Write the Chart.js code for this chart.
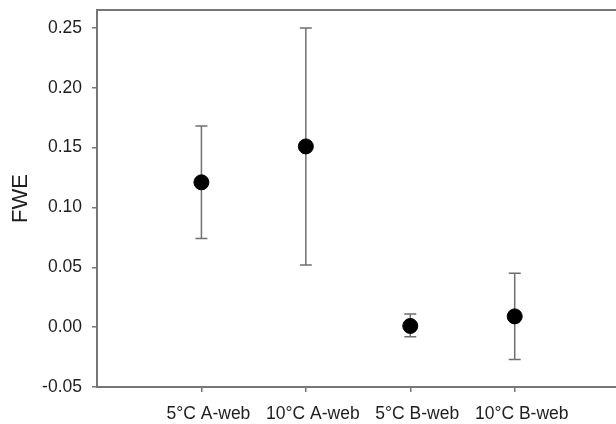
<!DOCTYPE html>
<html>
<head>
<meta charset="utf-8">
<script src="https://cdn.jsdelivr.net/npm/chart.js@4/dist/chart.umd.min.js"></script>
<style>
  html, body { margin: 0; padding: 0; background: #fff; }
  #wrap { width: 616px; height: 424px; }
</style>
</head>
<body>
<div id="wrap"><canvas id="chart" width="616" height="424"></canvas></div>
<script>
  const categories = ['5°C A-web', '10°C A-web', '5°C B-web', '10°C B-web'];
  const fweMean = [0.121, 0.151, 0.001, 0.009];
  const fweUpper = [0.168, 0.250, 0.011, 0.045];
  const fweLower = [0.074, 0.052, -0.008, -0.027];
  const yTicks = [-0.05, 0.00, 0.05, 0.10, 0.15, 0.20, 0.25];

  const AXIS_COLOR = '#767676';
  const BAR_COLOR = '#6f6f6f';
  const FONT = 'Liberation Sans, Arial, sans-serif';

  // error bars + top frame line
  const errorBarPlugin = {
    id: 'errorBars',
    beforeDatasetsDraw: function (chart) {
      const ctx = chart.ctx;
      const xs = chart.scales.x;
      const ys = chart.scales.y;
      ctx.save();
      ctx.strokeStyle = BAR_COLOR;
      ctx.lineWidth = 1.5;
      fweMean.forEach(function (v, i) {
        const x = xs.getPixelForValue(i + 1);
        const yTop = ys.getPixelForValue(fweUpper[i]);
        const yBot = ys.getPixelForValue(fweLower[i]);
        ctx.beginPath();
        ctx.moveTo(x, yTop);
        ctx.lineTo(x, yBot);
        ctx.moveTo(x - 6, yTop);
        ctx.lineTo(x + 6, yTop);
        ctx.moveTo(x - 6, yBot);
        ctx.lineTo(x + 6, yBot);
        ctx.stroke();
      });
      ctx.restore();
    },
    afterDatasetsDraw: function (chart) {
      const ctx = chart.ctx;
      const area = chart.chartArea;
      ctx.save();
      ctx.strokeStyle = AXIS_COLOR;
      ctx.lineWidth = 2;
      ctx.beginPath();
      ctx.moveTo(area.left - 1, area.top);
      ctx.lineTo(chart.width, area.top);
      ctx.stroke();
      ctx.restore();
    }
  };

  const ctx = document.getElementById('chart').getContext('2d');
  new Chart(ctx, {
    type: 'scatter',
    data: {
      datasets: [{
        label: 'FWE',
        data: fweMean.map(function (v, i) { return { x: i + 1, y: v }; }),
        backgroundColor: '#000',
        borderColor: '#000',
        pointRadius: 7.5,
        pointHoverRadius: 7.5
      }]
    },
    options: {
      responsive: false,
      animation: false,
      layout: { autoPadding: false, padding: { top: 10, left: 8, right: 0, bottom: 0 } },
      plugins: {
        legend: { display: false },
        tooltip: { enabled: false }
      },
      scales: {
        x: {
          type: 'linear',
          min: 0,
          max: 4.97,
          afterBuildTicks: function (scale) {
            scale.ticks = categories.map(function (c, i) { return { value: i + 1 }; });
          },
          afterFit: function (scale) {
            scale.height = 37;
            scale.paddingLeft = 0;
            scale.paddingRight = 0;
          },
          grid: { drawOnChartArea: false, drawTicks: true, tickLength: 5, color: AXIS_COLOR, lineWidth: 1.5 },
          border: { color: AXIS_COLOR, width: 2 },
          ticks: {
            padding: 12,
            labelOffset: 7,
            maxRotation: 0,
            autoSkip: false,
            color: '#1e1e1e',
            font: { family: FONT, size: 17.5 },
            callback: function (v) { return categories[Math.round(v) - 1] || ''; }
          }
        },
        y: {
          min: -0.05,
          max: 0.265,
          afterBuildTicks: function (scale) {
            scale.ticks = yTicks.map(function (v) { return { value: v }; });
          },
          afterFit: function (scale) {
            scale.width = 89;
            scale.paddingTop = 0;
            scale.paddingBottom = 0;
          },
          grid: { drawOnChartArea: false, drawTicks: true, tickLength: 5, color: AXIS_COLOR, lineWidth: 1.5 },
          border: { color: AXIS_COLOR, width: 2 },
          title: {
            display: true,
            text: 'FWE',
            color: '#1e1e1e',
            padding: 0,
            font: { family: FONT, size: 22 }
          },
          ticks: {
            padding: 10,
            color: '#1e1e1e',
            font: { family: FONT, size: 17.5 },
            callback: function (v) { return v.toFixed(2); }
          }
        }
      }
    },
    plugins: [errorBarPlugin]
  });
</script>
</body>
</html>
